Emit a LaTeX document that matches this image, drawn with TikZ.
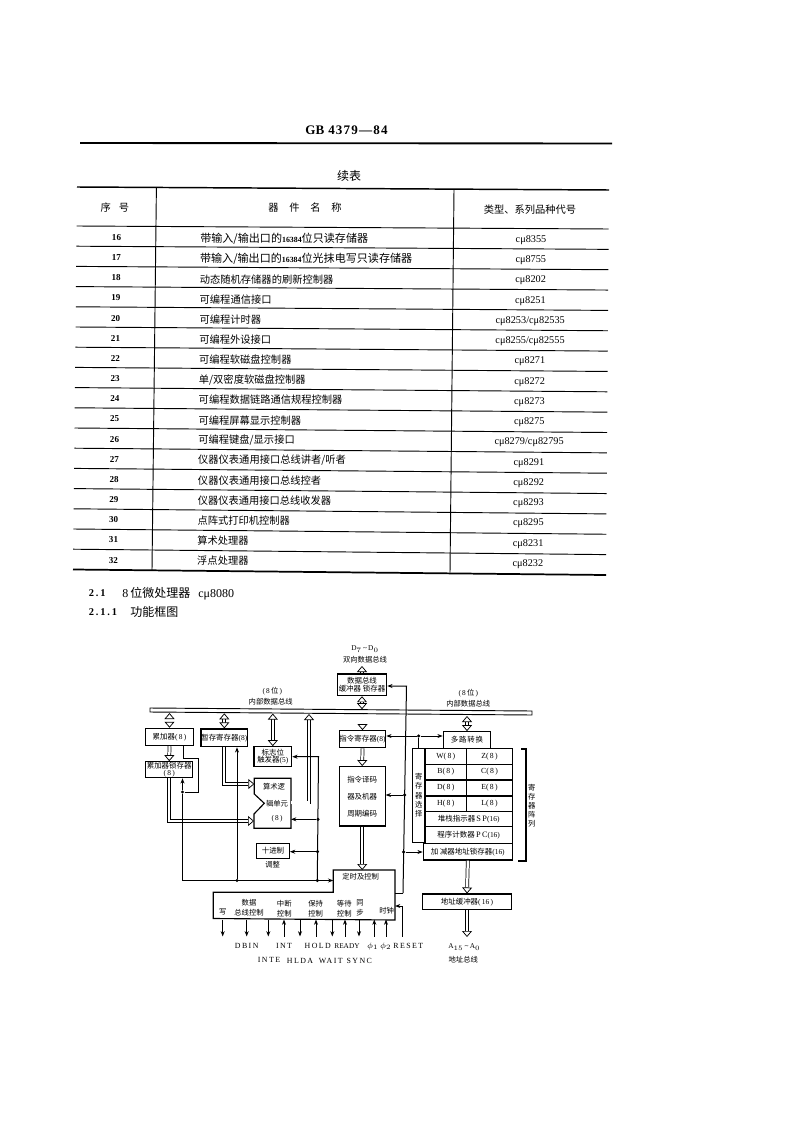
\documentclass[tikz,border=0pt]{standalone}
\usepackage{fontspec}
\setmainfont{Liberation Serif}
\newfontfamily\zhfont{Noto Sans CJK SC}
\newfontfamily\widefont[LetterSpace=18]{Liberation Serif}
\newfontfamily\gbfont[LetterSpace=9]{Liberation Serif}
\usetikzlibrary{arrows.meta}
\newcommand{\zh}[1]{{\zhfont #1}}
\newcommand{\zhw}[1]{{\fontsize{8.3}{9}\selectfont\zhfont #1}}
\tikzset{
  rowtext/.style={inner sep=0pt,font=\fontsize{7.7}{9}\selectfont},
  sectext/.style={inner sep=0pt,font=\fontsize{9}{11}\selectfont},
  secno/.style={inner sep=0pt,font=\bfseries\widefont\fontsize{7.8}{9}\selectfont},
  blk/.style={draw,line width=.85pt,fill=white,inner sep=0pt,align=center,font=\fontsize{5.6}{6.6}\selectfont},
  lbl/.style={inner sep=0pt,align=center,font=\fontsize{5.5}{7.4}\selectfont},
  pinlbl/.style={inner sep=0pt,font=\widefont\fontsize{5.9}{7}\selectfont},
  wire/.style={line width=.75pt},
  sigarrow/.style={line width=.75pt,-{Stealth[length=4pt,width=3pt]}},
  bigarrow/.style={double,double distance=1.7pt,line width=.55pt,-{Triangle[fill=white,length=4.5pt,width=7.5pt,line width=.55pt]}},
  bothway/.style={double,double distance=1.7pt,line width=.55pt,{Triangle[fill=white,length=4.5pt,width=7.5pt,line width=.55pt]}-{Triangle[fill=white,length=4.5pt,width=7.5pt,line width=.55pt]}},
  dot/.style={circle,fill,inner sep=0pt,minimum size=2.6pt}
}
\begin{document}
\begin{tikzpicture}[x=.75pt,y=-.75pt]
\useasboundingbox (0,0) rectangle (794,1123);

% page head
\draw[line width=1.4pt] (80,143) -- (612,143.5);
\node[inner sep=0pt,font=\bfseries\fontsize{9.8}{11}\selectfont] (gbhead) at (346.5,130) {GB\hspace{3pt}{\gbfont 4379—84}};
\node[inner sep=0pt,font=\fontsize{9}{11}\selectfont] (tabtitle) at (349,176) {\zh{续表}};

% table frame
\draw[line width=1.1pt] (77,187) -- (609,190);
\draw[line width=1.3pt] (73,569.5) -- (606,575);
\draw[line width=.7pt] (156.4,187.5) -- (152,570);
\draw[line width=.7pt] (454,189.5) -- (450,572.5);
\foreach \k in {0,1,...,16} {
  \pgfmathsetmacro\yl{226+20.2*\k}
  \pgfmathsetmacro\yr{229+20.35*\k}
  \pgfmathsetmacro\xl{76.6-.21*\k}
  \pgfmathsetmacro\xr{608.7-.16*\k}
  \draw[line width=.7pt] (\xl,\yl) -- (\xr,\yr);
}

% table head
\node[rowtext] (headno) at (115,208) {\zh{序\hspace{6pt}号}};
\node[rowtext] (headname) at (305,208) {\zh{器\hspace{8pt}件\hspace{8pt}名\hspace{8pt}称}};
\node[rowtext] (headcode) at (530,210) {\zh{类型、系列品种代号}};

% table rows
\foreach \k/\no/\title/\code in {
  0/16/{\zhw{带输入/输出口的}{\bfseries\fontsize{5.9}{7}\selectfont 16384}\zhw{位只读存储器}}/{cμ8355},
  1/17/{\zhw{带输入/输出口的}{\bfseries\fontsize{5.9}{7}\selectfont 16384}\zhw{位光抹电写只读存储器}}/{cμ8755},
  2/18/{\zh{动态随机存储器的刷新控制器}}/{cμ8202},
  3/19/{\zh{可编程通信接口}}/{cμ8251},
  4/20/{\zh{可编程计时器}}/{cμ8253/cμ82535},
  5/21/{\zh{可编程外设接口}}/{cμ8255/cμ82555},
  6/22/{\zh{可编程软磁盘控制器}}/{cμ8271},
  7/23/{\zh{单/双密度软磁盘控制器}}/{cμ8272},
  8/24/{\zh{可编程数据链路通信规程控制器}}/{cμ8273},
  9/25/{\zh{可编程屏幕显示控制器}}/{cμ8275},
  10/26/{\zh{可编程键盘/显示接口}}/{cμ8279/cμ82795},
  11/27/{\zh{仪器仪表通用接口总线讲者/听者}}/{cμ8291},
  12/28/{\zh{仪器仪表通用接口总线控者}}/{cμ8292},
  13/29/{\zh{仪器仪表通用接口总线收发器}}/{cμ8293},
  14/30/{\zh{点阵式打印机控制器}}/{cμ8295},
  15/31/{\zh{算术处理器}}/{cμ8231},
  16/32/{\zh{浮点处理器}}/{cμ8232}} {
  \pgfmathsetmacro\ya{237.5+20.16*\k}
  \pgfmathsetmacro\yb{239+20.13*\k}
  \pgfmathsetmacro\yc{240+20.25*\k}
  \pgfmathsetmacro\xa{116.5-.2*\k}
  \pgfmathsetmacro\xb{200-.19*\k}
  \pgfmathsetmacro\xc{531-.19*\k}
  \node[rowtext,font=\bfseries\fontsize{6.8}{8}\selectfont] (no\k) at (\xa,\ya) {\no};
  \node[rowtext,anchor=west] (title\k) at (\xb,\yb) {\title};
  \node[rowtext] (code\k) at (\xc,\yc) {\code};
}

% section titles
\node[secno,anchor=west] (secA) at (88.5,593) {2.1};
\node[sectext,anchor=west] (secAtext) at (122,594) {8\,\zh{位微处理器}\hspace{6pt}cμ8080};
\node[secno,anchor=west] (secB) at (88.5,612) {2.1.1};
\node[sectext,anchor=west] (secBtext) at (130,612) {\zh{功能框图}};

% internal bus
\node[draw,line width=.7pt,fill=white,inner sep=0pt,minimum width=286.5pt,minimum height=3pt,rotate=-.45] (bus) at (341,711.5) {};
\coordinate (busacc) at (169.5,713);
\coordinate (bustmp) at (224.3,713.3);
\coordinate (busflag) at (272.8,713.6);
\coordinate (busalu) at (309,714);
\coordinate (busbuf) at (362,709.2);
\coordinate (busir) at (362.5,714.6);
\coordinate (busmux) at (467,716);

% left part
\node[blk,minimum width=35.7pt,minimum height=13pt] (acc) at (169.5,737) {\zh{累加器}(\,8\,)};
\node[blk,minimum width=35.3pt,minimum height=12pt] (latch) at (169.2,769.7) {\zh{累加器锁存器}\\[-1.5pt](\,8\,)};
\node[blk,minimum width=35pt,minimum height=13.3pt] (tmp) at (224.3,737.8) {\zh{暂存寄存器}(8)};
\node[blk,minimum width=28.3pt,minimum height=15pt] (flag) at (272.8,756.7) {\zh{标志位}\\[-1pt]\zh{触发器}(5)};
\draw[line width=.85pt,fill=white] (254.3,778.3) coordinate (alua) -- (291,778.3) coordinate (alub) -- (291,828.3) coordinate (aluc) -- (254,828.3) coordinate (alud) -- (254,814) coordinate (alue) -- (264.3,803.3) coordinate (aluf) -- (254.3,794) coordinate (alug) -- cycle;
\coordinate (aluina) at (254.3,784);
\coordinate (aluinb) at (254,821);
\coordinate (aluout) at (291,802.5);
\coordinate (alusig) at (291,819.3);
\node[lbl] (alutxta) at (274,786.7) {\zh{算术逻}};
\node[lbl] (alutxtb) at (277,803.3) {\zh{辑单元}};
\node[lbl] (alutxtc) at (277,819) {(\,8\,)};
\node[blk,minimum width=24.5pt,minimum height=11.3pt] (adjust) at (273,850.8) {\zh{十进制}};
\node[lbl] (adjusttxt) at (272.7,865) {\zh{调整}};

% middle part
\node[blk,minimum width=37pt,minimum height=16.3pt] (dbuf) at (362,684.8) {\zh{数据总线}\\[-.5pt]\zh{缓冲器 锁存器}};
\node[blk,minimum width=34.8pt,minimum height=12.8pt] (ir) at (362.5,739.2) {\zh{指令寄存器}(8)};
\node[blk,minimum width=34.3pt,minimum height=44.5pt,font=\fontsize{5.6}{12.7}\selectfont] (dec) at (362.2,796.3) {\zh{指令译码}\\\zh{器及机器}\\\zh{周期编码}};
\node[lbl] (dhead) at (365,649) {D$_7$\,\textasciitilde\,D$_0$};
\node[lbl] (dheadb) at (365,659.3) {\zh{双向数据总线}};
\node[lbl] (busla) at (272.3,691) {(\,8\,\zh{位}\,)};
\node[lbl] (buslb) at (270.7,701.7) {\zh{内部数据总线}};
\node[lbl] (busra) at (468.3,692.7) {(\,8\,\zh{位}\,)};
\node[lbl] (busrb) at (468.3,703.3) {\zh{内部数据总线}};

% timing block
\draw[line width=.85pt] (333.3,870) coordinate (tima) -- (395,870) coordinate (timb) -- (395,920) coordinate (timc) -- (213.3,918.5) coordinate (timd) -- (213.3,892.3) coordinate (time) -- (333.3,892.3) coordinate (timf) -- cycle;
\node[lbl] (timtxt) at (360.7,876.7) {\zh{定时及控制}};
\node[lbl] (wrtxt) at (222.7,911.7) {\zh{写}};
\node[lbl,font=\fontsize{5.5}{7.5}\selectfont] (dbtxt) at (249,907.7) {\zh{数据}\\\zh{总线控制}};
\node[lbl,font=\fontsize{5.5}{7.5}\selectfont] (inttxt) at (284.3,908.3) {\zh{中断}\\\zh{控制}};
\node[lbl,font=\fontsize{5.5}{7.5}\selectfont] (holdtxt) at (315.7,908.3) {\zh{保持}\\\zh{控制}};
\node[lbl,font=\fontsize{5.5}{7.5}\selectfont] (waittxt) at (344.3,908.3) {\zh{等待}\\\zh{控制}};
\node[lbl,font=\fontsize{5.5}{7.5}\selectfont] (synctxt) at (360,908.3) {\zh{同}\\\zh{步}};
\node[lbl] (clktxt) at (386.7,911) {\zh{时钟}};

% registers
\node[blk,minimum width=35.6pt,minimum height=12.5pt] (mux) at (467,740) {\zh{多\hspace{.6pt}路\hspace{.6pt}转\hspace{.6pt}换}};
\foreach \rname/\x/\y/\wid in {W/445.8/756.2/31.3,Z/489.5/756.2/34.2,B/445.8/772/31.3,C/489.5/772/34.2,D/445.8/788/31.3,E/489.5/788/34.2,H/445.8/803.8/31.3,L/489.5/803.8/34.2} {
  \node[blk,minimum width=\wid pt,minimum height=11.8pt,font=\fontsize{5.8}{6.6}\selectfont] (reg\rname) at (\x,\y) {\rname(\,8\,)};
}
\node[blk,minimum width=65.5pt,minimum height=11.25pt] (regsp) at (468.7,819.2) {\zh{堆栈指示器}\,{\fontsize{6.2}{7}\selectfont S\,P}(16)};
\node[blk,minimum width=65.5pt,minimum height=12.5pt] (regpc) at (468.7,835) {\zh{程序计数器}\,{\fontsize{6.2}{7}\selectfont P\,C}(16)};
\node[blk,minimum width=66.75pt,minimum height=12.5pt] (reginc) at (467.8,851.7) {\zh{加 减器地址锁存器}(16)};
\node[blk,minimum width=9.2pt,minimum height=70.5pt,font=\fontsize{5.5}{7}\selectfont] (regsel) at (418.8,795.3) {\zh{寄}\\\zh{存}\\\zh{器}\\\zh{选}\\\zh{择}};
\draw[line width=.85pt] (521,749) -- (526,749) -- (526,861) -- (517.7,861);
\node[lbl,font=\fontsize{5.5}{6.8}\selectfont] (arraytxt) at (531.7,806) {\zh{寄}\\\zh{存}\\\zh{器}\\\zh{阵}\\\zh{列}};
\node[blk,minimum width=67pt,minimum height=11.5pt] (abuf) at (467,901.7) {\zh{地址缓冲器}(\,16\,)};
\coordinate (aout) at (467,937);
\node[lbl] (ahead) at (464.3,946.7) {A$_{15}$\,\textasciitilde\,A$_0$};
\node[lbl] (aheadb) at (463.3,959.3) {\zh{地址总线}};

% hollow arrows
\coordinate (dout) at (362,666);
\draw[bigarrow] (dbuf.north) -- (dout);
\draw[bothway] (dbuf.south) -- (busbuf);
\draw[bigarrow] (busir) -- (ir.north);
\draw[bigarrow] (ir.south) -- (dec.north);
\draw[bigarrow] (dec.south) -- (dec.south |- tima);
\draw[bothway] (busacc) -- (acc.north);
\draw[bigarrow] (acc.south) -- (latch.north);
\draw[bothway] (bustmp) -- (tmp.north);
\draw[bothway] (busflag) -- (flag.north);
\draw[bigarrow] (aluout) -| (busalu);
\draw[bigarrow] (tmp.south) |- (aluina);
\draw[bigarrow] (latch.south) |- (aluinb);
\draw[bothway] (busmux) -- (mux.north);
\draw[bigarrow] (reginc.south) -- (abuf.north);
\draw[bigarrow] (abuf.south) -- (aout);

% control lines, right
\coordinate (ctlbot) at (403,893);
\coordinate (ctltop) at (406.5,686);
\coordinate (timout) at (395,893);
\draw[wire] (timout) -- (ctlbot);
\draw[sigarrow] (ctlbot) -- (ctltop) -- (dbuf.east |- ctltop);
\node[dot] (dotdec) at (404.7,795) {};
\draw[sigarrow] (dotdec) -- (dec.east |- dotdec);
\node[dot] (dotinc) at (403.7,852) {};
\draw[sigarrow] (dotinc) -- (reginc.west |- dotinc);
\node[dot] (dotsel) at (418.7,736) {};
\draw[wire] (dotsel) -- (dotsel |- regsel.north);
\draw[sigarrow] (dotsel) -- (ir.east |- dotsel);
\draw[sigarrow] (dotsel) -- (mux.west |- dotsel);

% control lines, left
\coordinate (flagcorner) at (318.5,756.7);
\coordinate (ctljoin) at (317.3,880.5);
\coordinate (leftend) at (182.5,880.5);
\draw[sigarrow] (ctljoin) -- (flagcorner) -- (flag.east);
\node[dot] (dotalu) at (318,819.3) {};
\draw[sigarrow] (dotalu) -- (alusig);
\node[dot] (dotadj) at (317.5,851.7) {};
\draw[sigarrow] (dotadj) -- (adjust.east |- dotadj);
\node[dot] (dotjoin) at (ctljoin) {};
\draw[sigarrow] (leftend) -- (tima |- leftend);
\node[dot] (dottmp) at (237,880.5) {};
\draw[sigarrow] (dottmp) -- (dottmp |- tmp.south);
\node[dot] (dotacc) at (182.5,792) {};
\draw[wire] (leftend) -- (dotacc);
\draw[sigarrow] (dotacc) -- (dotacc |- latch.south);
\coordinate (loopa) at (198.3,792);
\coordinate (loopb) at (198.3,758.3);
\coordinate (loopc) at (183.3,758.3);
\draw[wire] (dotacc) -- (loopa) -- (loopb) -- (loopc) -- (loopc |- acc.south);

% pins of the timing block
\foreach \x/\pin in {222.7/wr,246.7/dbin,268.3/inte,300/hlda,332.3/wait,359/sync} {
  \coordinate (top\pin) at (\x,919.5);
  \coordinate (end\pin) at (\x,936.5);
  \draw[sigarrow] (top\pin) -- (end\pin);
}
\foreach \x/\pin in {284/int,316/hold,345/ready,374.3/phia,386/phib} {
  \coordinate (top\pin) at (\x,919.5);
  \coordinate (end\pin) at (\x,936.5);
  \draw[sigarrow] (end\pin) -- (top\pin);
}
\coordinate (resetend) at (402.7,936.5);
\coordinate (resetcorner) at (402.7,906);
\draw[sigarrow] (resetend) -- (resetcorner) -- (timb |- resetcorner);

% pin names
\node[pinlbl] (ndbin) at (246.7,945.5) {DBIN};
\node[pinlbl] (nint) at (284,946) {INT};
\node[pinlbl] (nhold) at (317.7,945.7) {HOLD};
\node[pinlbl,font=\fontsize{5.5}{7}\selectfont] (nready) at (347,946) {READY};
\node[pinlbl] (nphia) at (372.7,946) {$\phi_1$};
\node[pinlbl] (nphib) at (385.7,946) {$\phi_2$};
\node[pinlbl] (nreset) at (408.3,946) {RESET};
\node[pinlbl] (ninte) at (269,960) {INTE};
\node[pinlbl] (nhlda) at (300,960.7) {HLDA};
\node[pinlbl] (nwait) at (330.7,961) {WAIT};
\node[pinlbl] (nsync) at (359.3,960.7) {SYNC};
\end{tikzpicture}
\end{document}
